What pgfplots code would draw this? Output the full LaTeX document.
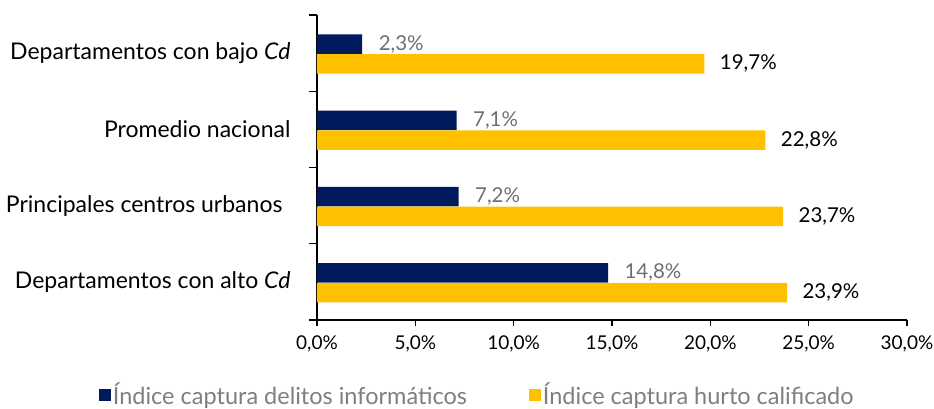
\documentclass[border=0pt]{standalone}
\usepackage{pgfplots}
\pgfplotsset{compat=1.18}
\usepackage{fontspec}
\setmainfont{Lato}
\definecolor{navy}{HTML}{001A5E}
\definecolor{gold}{HTML}{FFC000}
\definecolor{lblgray}{HTML}{6F6F6F}
\definecolor{leggray}{HTML}{7F7F7F}
\begin{document}
\begin{tikzpicture}
\begin{axis}[
  at={(0,0)}, anchor=south west,
  scale only axis, width=590pt, height=305pt,
  xmin=0, xmax=30, ymin=-0.5, ymax=3.5,
  axis x line*=bottom, axis y line*=left,
  axis line style={line width=1.3pt, black},
  xtick={0,5,10,15,20,25,30},
  xticklabels={{0,0\%},{5,0\%},{10,0\%},{15,0\%},{20,0\%},{25,0\%},{30,0\%}},
  xticklabel style={font=\fontsize{19}{22}\selectfont, yshift=-6pt},
  ytick={0,1,2,3},
  yticklabels={{Departamentos con alto \textit{Cd}},{Principales centros urbanos\kern8pt},{Promedio nacional},{Departamentos con bajo \textit{Cd}}},
  yticklabel style={font=\fontsize{23}{26}\selectfont, xshift=-17pt},
  minor ytick={-0.5,0.5,1.5,2.5,3.5},
  tick align=outside,
  major tick length=6pt, minor tick length=8pt,
  y tick style={draw=none},
  minor y tick style={draw=black, line width=1.2pt},
  x tick style={black, line width=1.2pt},
  xbar, bar width=0.255,
  legend style={draw=none, at={(-0.37,-0.245)}, anchor=west, inner sep=0pt,
    font=\fontsize{23.5}{27}\selectfont, text=leggray,
    legend columns=2,
    /tikz/every even column/.append style={column sep=60pt}},
  legend image code/.code={\fill[#1] (0pt,-6pt) rectangle (12pt,6pt);},
  nodes near coords,
  point meta=explicit symbolic,
]
\addplot[draw=none, fill=navy, bar shift=0.117,
  nodes near coords style={anchor=west, xshift=13pt, text=lblgray, font=\fontsize{20.5}{24}\selectfont}]
  coordinates {(14.8,0) [14,8\%] (7.2,1) [7,2\%] (7.1,2) [7,1\%] (2.3,3) [2,3\%]};
\addlegendentry{Índice captura delitos informáticos}
\addplot[draw=none, fill=gold, bar shift=-0.141,
  nodes near coords style={anchor=west, xshift=12pt, text=black, font=\fontsize{20.5}{24}\selectfont}]
  coordinates {(23.9,0) [23,9\%] (23.7,1) [23,7\%] (22.8,2) [22,8\%] (19.7,3) [19,7\%]};
\addlegendentry{Índice captura hurto calificado}
\end{axis}
\pgfresetboundingbox
\path (-317pt,-88pt) rectangle (617pt,320pt);
\end{tikzpicture}
\end{document}
